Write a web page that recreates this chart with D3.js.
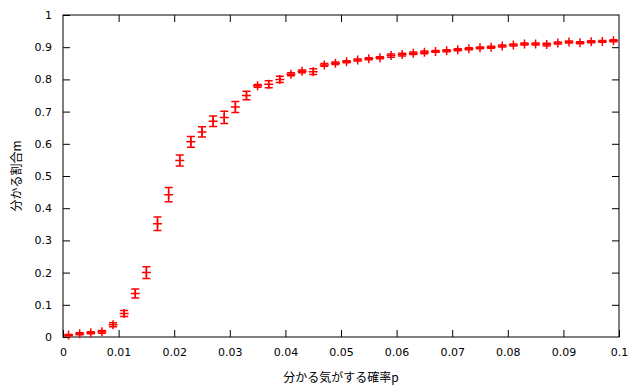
<!DOCTYPE html>
<html>
<head>
<meta charset="utf-8">
<script src="https://cdn.jsdelivr.net/npm/d3@7"></script>
<style>
    body { margin: 0; background: #fff; }
    text { font-family: "DejaVu Sans", sans-serif; font-size: 11px; fill: #000; }
    .cjk { font-family: "Noto Sans CJK JP", sans-serif; font-size: 12px; }
</style>
</head>
<body>
<div id="container"></div>
<script>

// p values (x), measured share m (y), and error (half length of bar)
const pValues = [
    0.001, 0.003, 0.005, 0.007, 0.009, 0.011, 0.013, 0.015, 0.017, 0.019,
    0.021, 0.023, 0.025, 0.027, 0.029, 0.031, 0.033, 0.035, 0.037, 0.039,
    0.041, 0.043, 0.045, 0.047, 0.049, 0.051, 0.053, 0.055, 0.057, 0.059,
    0.061, 0.063, 0.065, 0.067, 0.069, 0.071, 0.073, 0.075, 0.077, 0.079,
    0.081, 0.083, 0.085, 0.087, 0.089, 0.091, 0.093, 0.095, 0.097, 0.099
];
const mValues = [
    0.006, 0.010, 0.013, 0.016, 0.038, 0.073, 0.135, 0.200, 0.352, 0.442,
    0.548, 0.606, 0.637, 0.670, 0.682, 0.714, 0.750, 0.780, 0.785, 0.800,
    0.816, 0.825, 0.824, 0.845, 0.850, 0.855, 0.860, 0.864, 0.867, 0.874,
    0.877, 0.881, 0.884, 0.887, 0.889, 0.892, 0.895, 0.898, 0.900, 0.904,
    0.907, 0.910, 0.910, 0.908, 0.913, 0.916, 0.914, 0.917, 0.918, 0.920
];
const mErrors = [
    0.002, 0.003, 0.003, 0.004, 0.006, 0.009, 0.014, 0.018, 0.021, 0.022,
    0.017, 0.017, 0.016, 0.016, 0.019, 0.017, 0.013, 0.004, 0.011, 0.010,
    0.005, 0.004, 0.009, 0.004, 0.004, 0.003, 0.003, 0.003, 0.003, 0.005,
    0.004, 0.004, 0.004, 0.003, 0.003, 0.003, 0.003, 0.003, 0.003, 0.003,
    0.003, 0.003, 0.003, 0.004, 0.003, 0.003, 0.003, 0.003, 0.003, 0.003
];
const xTicks = [0, 0.01, 0.02, 0.03, 0.04, 0.05, 0.06, 0.07, 0.08, 0.09, 0.1];
const yTicks = [0, 0.1, 0.2, 0.3, 0.4, 0.5, 0.6, 0.7, 0.8, 0.9, 1];
const xLabel = '分かる気がする確率p';
const yLabel = '分かる割合m';

window.addEventListener('DOMContentLoaded', (event) => {

    const width = 640, height = 387;
    const left = 63, right = 619, top = 15, bottom = 337;

    const svg = d3.select('#container')
        .append('svg')
        .attr('width', width)
        .attr('height', height);

    const x = d3.scaleLinear().domain([0, 0.1]).range([left, right]);
    const y = d3.scaleLinear().domain([0, 1]).range([bottom, top]);

    const tickLen = 7;
    const fmt = d => d3.format('')(+d.toFixed(3));

    // Ticks on all four sides, pointing inward.
    svg.append('g').attr('transform', `translate(0,${bottom})`)
        .call(d3.axisBottom(x).tickValues(xTicks).tickSizeInner(-tickLen).tickSizeOuter(0).tickPadding(11).tickFormat(fmt));
    svg.append('g').attr('transform', `translate(0,${top})`)
        .call(d3.axisTop(x).tickValues(xTicks.slice(1, -1)).tickSizeInner(-tickLen).tickSizeOuter(0).tickFormat(''));
    svg.append('g').attr('transform', `translate(${left},0)`)
        .call(d3.axisLeft(y).tickValues(yTicks).tickSizeInner(-tickLen).tickSizeOuter(0).tickPadding(11).tickFormat(fmt));
    svg.append('g').attr('transform', `translate(${right},0)`)
        .call(d3.axisRight(y).tickValues(yTicks.slice(1, -1)).tickSizeInner(-tickLen).tickSizeOuter(0).tickFormat(''));

    svg.selectAll('.domain').remove();
    svg.selectAll('.tick line').attr('stroke', '#000');
    svg.selectAll('.tick text').style('font-family', '"DejaVu Sans", sans-serif').style('font-size', '11px');

    svg.append('rect')
        .attr('x', left)
        .attr('y', top)
        .attr('width', right - left)
        .attr('height', bottom - top)
        .attr('stroke', '#000')
        .attr('fill', 'none');

    // Data points with error bars.
    const pts = pValues.map((p, i) => ({ p: p, m: mValues[i], e: mErrors[i] }));
    const cap = 4, arm = 4.5;
    const g = svg.append('g')
        .attr('stroke', '#f00')
        .attr('stroke-width', 1.5)
        .attr('fill', 'none');

    const pt = g.selectAll('g.pt')
        .data(pts)
        .enter()
        .append('g')
        .attr('class', 'pt');

    pt.append('path')
        .attr('d', d => {
            const cx = x(d.p), y1 = y(d.m + d.e), y2 = y(d.m - d.e);
            return `M${cx},${y1}V${y2}` +
                `M${cx - cap},${y1}H${cx + cap}` +
                `M${cx - cap},${y2}H${cx + cap}`;
        });
    pt.append('path')
        .attr('d', d => {
            const cx = x(d.p), cy = y(d.m);
            return `M${cx - arm},${cy}H${cx + arm}M${cx},${cy - arm}V${cy + arm}`;
        });

    // Axis titles.
    svg.append('text')
        .attr('class', 'cjk')
        .attr('x', (left + right) / 2)
        .attr('y', 382)
        .attr('text-anchor', 'middle')
        .text(xLabel);

    svg.append('text')
        .attr('class', 'cjk')
        .attr('transform', `translate(21,${(top + bottom) / 2}) rotate(-90)`)
        .attr('text-anchor', 'middle')
        .text(yLabel);

}); // end of document ready
</script>
</body>
</html>
